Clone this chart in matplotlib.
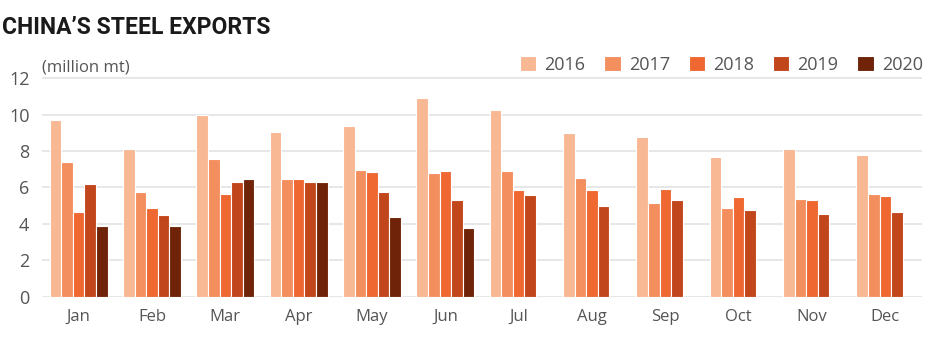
import matplotlib
matplotlib.use("Agg")
import matplotlib.pyplot as plt
import numpy as np

MONTHS = ["Jan", "Feb", "Mar", "Apr", "May", "Jun",
          "Jul", "Aug", "Sep", "Oct", "Nov", "Dec"]
YEARS = ["2016", "2017", "2018", "2019", "2020"]

# million mt
exp_2016 = [9.71, 8.11, 9.98, 9.05, 9.38, 10.92, 10.25, 8.99, 8.78, 7.68, 8.11, 7.79]
exp_2017 = [7.40, 5.75, 7.57, 6.47, 6.96, 6.80, 6.91, 6.52, 5.15, 4.87, 5.37, 5.64]
exp_2018 = [4.65, 4.87, 5.64, 6.47, 6.85, 6.91, 5.86, 5.86, 5.92, 5.48, 5.31, 5.53]
exp_2019 = [6.19, 4.49, 6.30, 6.30, 5.75, 5.31, 5.58, 4.98, 5.31, 4.76, 4.54, 4.65]
exp_2020 = [3.88, 3.88, 6.47, 6.30, 4.38, 3.77]

SERIES = [exp_2016, exp_2017, exp_2018, exp_2019, exp_2020]
COLORS = ["#F8B894", "#F38F5E", "#EF6731", "#C2461B", "#6F2409"]

plt.rcParams["font.family"] = ["Open Sans", "DejaVu Sans"]

fig = plt.figure(figsize=(9.45, 3.39), dpi=100)
ax = fig.add_axes([0.0444, 0.1248, 0.9313, 0.6605])

w = 0.158
for k, (vals, col, yr) in enumerate(zip(SERIES, COLORS, YEARS)):
    x = np.arange(len(vals)) + (k - 2) * w
    ax.bar(x, vals, w, color=col, edgecolor="white", linewidth=0.8,
           label=yr, zorder=3)

ax.set_xlim(-0.5, 11.5)
ax.set_ylim(0, 12.3)
ax.set_yticks(range(0, 13, 2))
ax.set_xticks(np.arange(12))
ax.set_xticklabels(MONTHS)
ax.grid(axis="y", color="#e3e3e3", linewidth=1.2, zorder=0)
for s in ax.spines.values():
    s.set_visible(False)
ax.tick_params(axis="both", length=0, colors="#555555")
ax.tick_params(axis="y", pad=9, labelsize=13)
ax.tick_params(axis="x", pad=9, labelsize=12)

fig.text(0.002, 0.918, "CHINA\u2019S STEEL EXPORTS", fontsize=16.5,
         fontweight="bold", color="#1a1a1a", family=["Roboto", "DejaVu Sans"],
         va="center", ha="left")
fig.text(0.0444, 0.80, "(million mt)", fontsize=12, color="#555555",
         va="center", ha="left")

leg = fig.legend(loc="center right", bbox_to_anchor=(0.984, 0.808), ncol=5,
                 frameon=False, fontsize=13, handlelength=0.9,
                 handleheight=0.9, handletextpad=0.45, columnspacing=1.05,
                 borderaxespad=0)
for t in leg.get_texts():
    t.set_color("#555555")

fig.savefig("out.png", dpi=100)
